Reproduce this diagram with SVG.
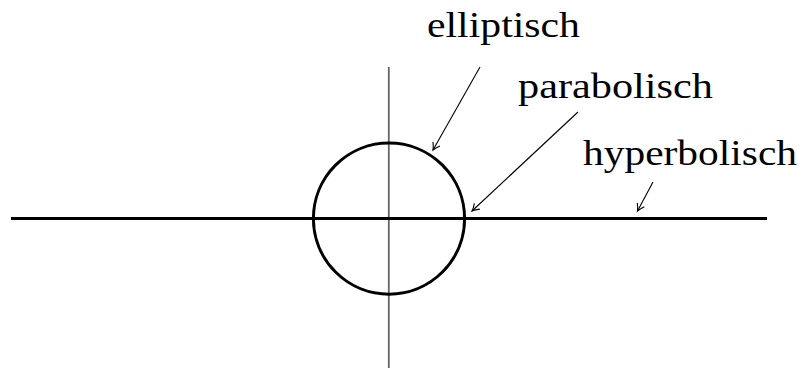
<svg xmlns="http://www.w3.org/2000/svg" width="801" height="368" viewBox="0 0 801 368">
<style>
.lbl{font-family:"Liberation Serif","Times New Roman",serif;font-size:36px;fill:#000}
.arr{stroke:#000;stroke-width:1.1;fill:none;marker-end:url(#ah)}
</style>
<defs>
<marker id="ah" viewBox="-8 -5 10 10" markerWidth="10" markerHeight="10" refX="0" refY="0" orient="auto" markerUnits="userSpaceOnUse">
<path d="M-7,-4 Q-3,-1 0,0 Q-3,1 -7,4" fill="none" stroke="#000" stroke-width="1.1"/>
</marker>
</defs>
<rect width="801" height="368" fill="#fff"/>
<g id="axes">
<line x1="388.8" y1="67" x2="388.8" y2="368" stroke="#666" stroke-width="1.8"/>
<line x1="11" y1="218.4" x2="767" y2="218.4" stroke="#000" stroke-width="3"/>
</g>
<g id="circle">
<circle cx="389" cy="218.6" r="75.6" fill="none" stroke="#000" stroke-width="3"/>
</g>
<g id="connectors">
<line class="arr" x1="480" y1="67" x2="433" y2="150"/>
<line class="arr" x1="578" y1="112" x2="472" y2="211"/>
<line class="arr" x1="653" y1="182" x2="637.5" y2="211"/>
</g>
<g id="label-elliptisch"><text class="lbl" x="427" y="36.7" textLength="153" lengthAdjust="spacingAndGlyphs">elliptisch</text></g>
<g id="label-parabolisch"><text class="lbl" x="518" y="98.3" textLength="195" lengthAdjust="spacingAndGlyphs">parabolisch</text></g>
<g id="label-hyperbolisch"><text class="lbl" x="583" y="165" textLength="214" lengthAdjust="spacingAndGlyphs">hyperbolisch</text></g>
</svg>
